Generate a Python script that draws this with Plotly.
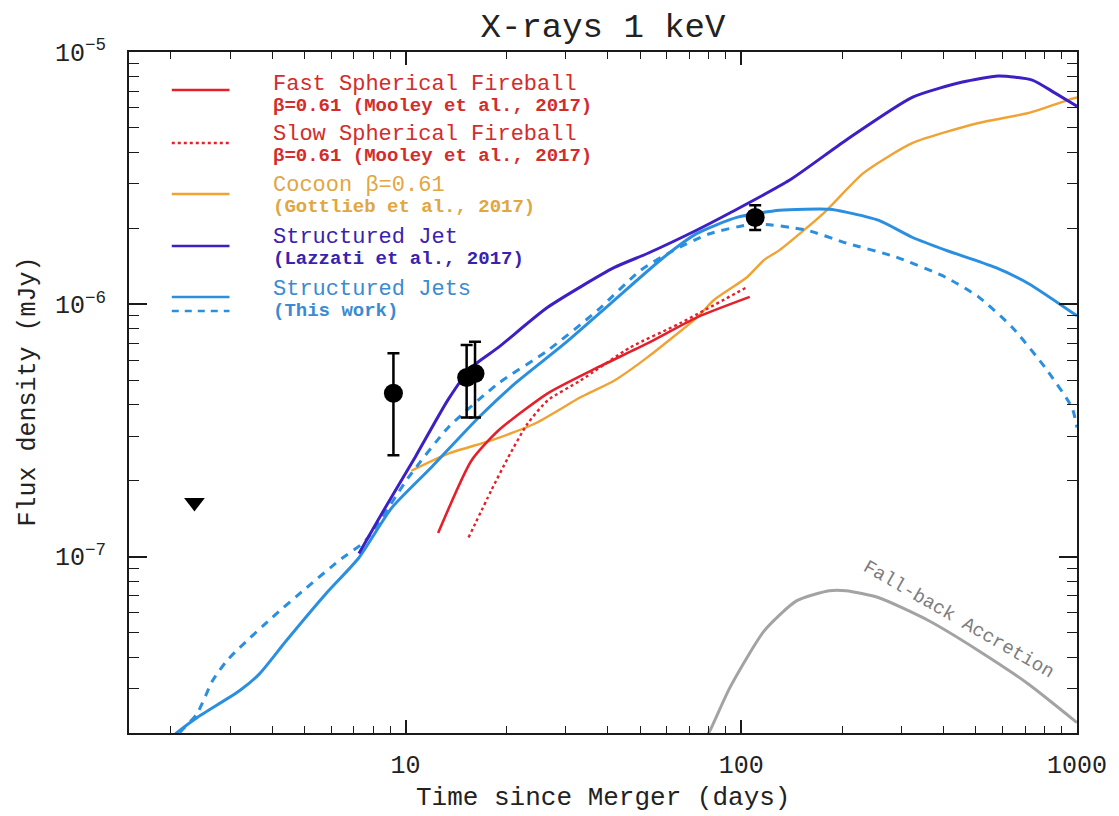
import plotly.graph_objects as go
import math

# ---------------- data ----------------
fast_x = [12.5, 15.7, 18.9, 26.5, 37.3, 52.5, 73.8, 106]
fast_y = [1.24e-7, 2.40e-7, 3.16e-7, 4.44e-7, 5.62e-7, 7.0e-7, 8.88e-7, 1.07e-6]

slow_x = [15.4, 18.0, 20.2, 23.1, 26.5, 33.2, 46.7, 65.7, 104]
slow_y = [1.19e-7, 1.83e-7, 2.47e-7, 3.37e-7, 4.16e-7, 4.99e-7, 6.75e-7, 8.41e-7, 1.17e-6]

cocoon_x = [10.4, 13.4, 18.0, 24.3, 33.2, 41.9, 52.5, 73.8, 82.9, 104, 117, 130, 176, 231, 324, 509, 716, 940, 1000]
cocoon_y = [2.19e-7, 2.56e-7, 2.89e-7, 3.37e-7, 4.28e-7, 4.99e-7, 6.16e-7, 8.88e-7, 1.04e-6, 1.28e-6,
            1.50e-6, 1.64e-6, 2.30e-6, 3.31e-6, 4.36e-6, 5.23e-6, 5.73e-6, 6.45e-6, 6.6e-6]

lazzati_x = [7.26, 8.49, 10.7, 13.4, 15.7, 18.9, 26.5, 41.9, 52.5, 73.8, 92.4, 139, 205, 324, 456, 583, 736, 861, 1000]
lazzati_y = [1.03e-7, 1.48e-7, 2.49e-7, 4.2e-7, 5.62e-7, 6.75e-7, 9.73e-7, 1.40e-6, 1.59e-6, 1.97e-6,
             2.30e-6, 3.10e-6, 4.47e-6, 6.62e-6, 7.60e-6, 8.03e-6, 7.74e-6, 6.87e-6, 6.1e-6]

jet_solid_x = [2.0, 2.08, 2.39, 3.20, 3.67, 4.41, 5.79, 7.26, 9.09, 11.9, 16.5, 21.2, 29.8, 41.9, 58.9, 73.8,
               97.0, 130, 183, 205, 257, 324, 406, 571, 716, 1000]
jet_solid_y = [1.9e-8, 2.0e-8, 2.30e-8, 2.94e-8, 3.43e-8, 4.64e-8, 7.13e-8, 9.9e-8, 1.56e-7, 2.25e-7, 3.56e-7,
               4.86e-7, 7.0e-7, 1.04e-6, 1.54e-6, 1.91e-6, 2.21e-6, 2.36e-6, 2.38e-6, 2.32e-6, 2.15e-6,
               1.84e-6, 1.64e-6, 1.40e-6, 1.21e-6, 9.0e-7]

jet_dash_x = [2.0, 2.12, 2.39, 2.66, 2.93, 3.20, 4.00, 5.07, 6.33, 7.61, 10.2, 13.4, 18.9, 26.5, 37.3, 50.0,
              62.0, 80.0, 110, 156, 205, 289, 406, 509, 641, 803, 966, 1000]
jet_dash_y = [1.8e-8, 2.0e-8, 2.38e-8, 3.22e-8, 3.86e-8, 4.35e-8, 5.73e-8, 7.53e-8, 9.64e-8, 1.16e-7, 2.06e-7,
              3.25e-7, 4.86e-7, 6.56e-7, 9.46e-7, 1.36e-6, 1.62e-6, 1.90e-6, 2.08e-6, 1.97e-6, 1.75e-6,
              1.54e-6, 1.28e-6, 1.07e-6, 8.11e-7, 5.62e-7, 3.90e-7, 3.25e-7]

fallback_x = [78, 80.6, 92.4, 117, 146, 183, 205, 257, 362, 509, 716, 1000]
fallback_y = [1.9e-8, 2.04e-8, 3.02e-8, 5.08e-8, 6.68e-8, 7.33e-8, 7.33e-8, 6.87e-8, 5.57e-8, 4.24e-8, 3.13e-8, 2.2e-8]

det_x = [9.2, 15.2, 16.1, 110]
det_y = [4.44e-7, 5.13e-7, 5.32e-7, 2.21e-6]
det_hi = [6.40e-7, 6.9e-7, 7.1e-7, 2.47e-6]
det_lo = [2.52e-7, 3.56e-7, 3.56e-7, 1.97e-6]

ul_x = [2.35]
ul_y = [1.64e-7]

x_ticks = [10, 100, 1000]
y_ticks = [1e-7, 1e-6, 1e-5]

# ---------------- styling ----------------
FONT = "Liberation Mono"
RED = "#e5202a"
ORANGE = "#f0a232"
PURPLE = "#3d1fc4"
BLUE = "#2b8fe0"
GRAY = "#a3a3a3"

fig = go.Figure()

def curve(x, y, color, dash="solid", width=2.6):
    fig.add_trace(go.Scatter(x=x, y=y, mode="lines",
                             line=dict(color=color, width=width, dash=dash, shape="spline", smoothing=0.6),
                             showlegend=False, hoverinfo="skip"))

curve(fallback_x, fallback_y, GRAY, width=3)
curve(cocoon_x, cocoon_y, ORANGE, width=2.4)
curve(slow_x, slow_y, RED, dash="dot", width=2.4)
curve(fast_x, fast_y, RED, width=2.6)
curve(jet_dash_x, jet_dash_y, BLUE, dash="8px,7px", width=3)
curve(jet_solid_x, jet_solid_y, BLUE, width=3)
curve(lazzati_x, lazzati_y, PURPLE, width=3)

fig.add_trace(go.Scatter(
    x=det_x, y=det_y, mode="markers",
    marker=dict(symbol="circle", size=19, color="black"),
    error_y=dict(type="data", symmetric=False,
                 array=[h - v for h, v in zip(det_hi, det_y)],
                 arrayminus=[v - l for v, l in zip(det_y, det_lo)],
                 color="black", thickness=2.5, width=6),
    showlegend=False, hoverinfo="skip"))

fig.add_trace(go.Scatter(x=ul_x, y=ul_y, mode="markers",
                         marker=dict(symbol="triangle-down", size=18, color="black"),
                         showlegend=False, hoverinfo="skip"))

# ---------------- layout geometry ----------------
W, H = 1119, 816
L, R, T, B = 129, 1082, 52, 733

def px_x(p):
    return (p - L) / (R - L)

def px_y(p):
    return (B - p) / (B - T)

shapes = []
annotations = []

legend_items = [
    # (line y px, color, dash, main text, sub text, block centre y px, text color)
    (90, RED, "solid", "Fast Spherical Fireball", "β=0.61 (Mooley et al., 2017)", 94, "#d42b2b"),
    (143, RED, "dot", "Slow Spherical Fireball", "β=0.61 (Mooley et al., 2017)", 144, "#d42b2b"),
    (194, ORANGE, "solid", "Cocoon β=0.61", "(Gottlieb et al., 2017)", 196, "#e2a640"),
    (246, PURPLE, "solid", "Structured Jet", "(Lazzati et al., 2017)", 247, "#3a22b0"),
    (297, BLUE, "solid", "Structured Jets", "(This work)", 299, "#3a8bd2"),
]
for ly, col, dsh, main, sub, cy, tcol in legend_items:
    shapes.append(dict(type="line", xref="paper", yref="paper",
                       x0=px_x(172), x1=px_x(230), y0=px_y(ly), y1=px_y(ly),
                       line=dict(color=col, width=2.5, dash=dsh)))
    txt = ("<span style='font-size:22px'>" + main + "</span><br>"
           "<span style='font-size:19px'><b>" + sub + "</b></span>")
    annotations.append(dict(text=txt, xref="paper", yref="paper", x=px_x(272), y=px_y(cy),
                            xanchor="left", yanchor="middle", align="left", showarrow=False,
                            font=dict(family=FONT, size=16, color=tcol)))
shapes.append(dict(type="line", xref="paper", yref="paper",
                   x0=px_x(172), x1=px_x(230), y0=px_y(311), y1=px_y(311),
                   line=dict(color=BLUE, width=2.5, dash="7px,6px")))

annotations.append(dict(text="Fall-back Accretion", xref="x", yref="y",
                        x=math.log10(445), y=math.log10(5.6e-8), textangle=30,
                        showarrow=False, font=dict(family=FONT, size=19, color="#7d7d7d")))

annotations.append(dict(text="Time since Merger (days)", xref="paper", yref="paper",
                        x=px_x(605), y=px_y(798), xanchor="center", yanchor="middle",
                        showarrow=False, font=dict(family=FONT, size=26, color="#222")))
annotations.append(dict(text="Flux density (mJy)", xref="paper", yref="paper",
                        x=px_x(27), y=px_y(392), xanchor="center", yanchor="middle", textangle=-90,
                        showarrow=False, font=dict(family=FONT, size=25, color="#222")))

axis_common = dict(type="log", showgrid=False, zeroline=False, showline=True,
                   linecolor="#1a1a1a", linewidth=2, mirror="allticks",
                   ticks="inside", tickcolor="#1a1a1a", tickwidth=1.6)

fig.update_layout(
    width=W, height=H,
    margin=dict(l=L, r=W - R, t=T, b=H - B),
    paper_bgcolor="white", plot_bgcolor="white",
    title=dict(text="X-rays 1 keV", x=0.5, xref="paper", xanchor="center",
               y=1 - 25 / H, yref="container", yanchor="middle",
               font=dict(family=FONT, size=34, color="#222")),
    shapes=shapes, annotations=annotations,
    xaxis=dict(**axis_common, range=[math.log10(1.5), 3.0],
               tickvals=x_ticks, ticktext=[str(v) for v in x_ticks], ticklen=13,
               ticklabelstandoff=8,
               tickfont=dict(family=FONT, size=25, color="#222"),
               minor=dict(ticks="inside", ticklen=7, tickwidth=1.4, tickcolor="#1a1a1a",
                          dtick="D1", showgrid=False)),
    yaxis=dict(**axis_common, range=[math.log10(2e-8), -5.0],
               tickvals=y_ticks, ticktext=["10<sup>−7</sup>", "10<sup>−6</sup>", "10<sup>−5</sup>"],
               ticklen=18, ticklabelstandoff=16,
               tickfont=dict(family=FONT, size=25, color="#222"),
               minor=dict(ticks="inside", ticklen=10, tickwidth=1.4, tickcolor="#1a1a1a",
                          dtick="D1", showgrid=False)),
)

fig.write_html("out.html", config={"displayModeBar": False},
               post_script="document.body.style.margin='0';document.body.style.overflow='hidden';")
